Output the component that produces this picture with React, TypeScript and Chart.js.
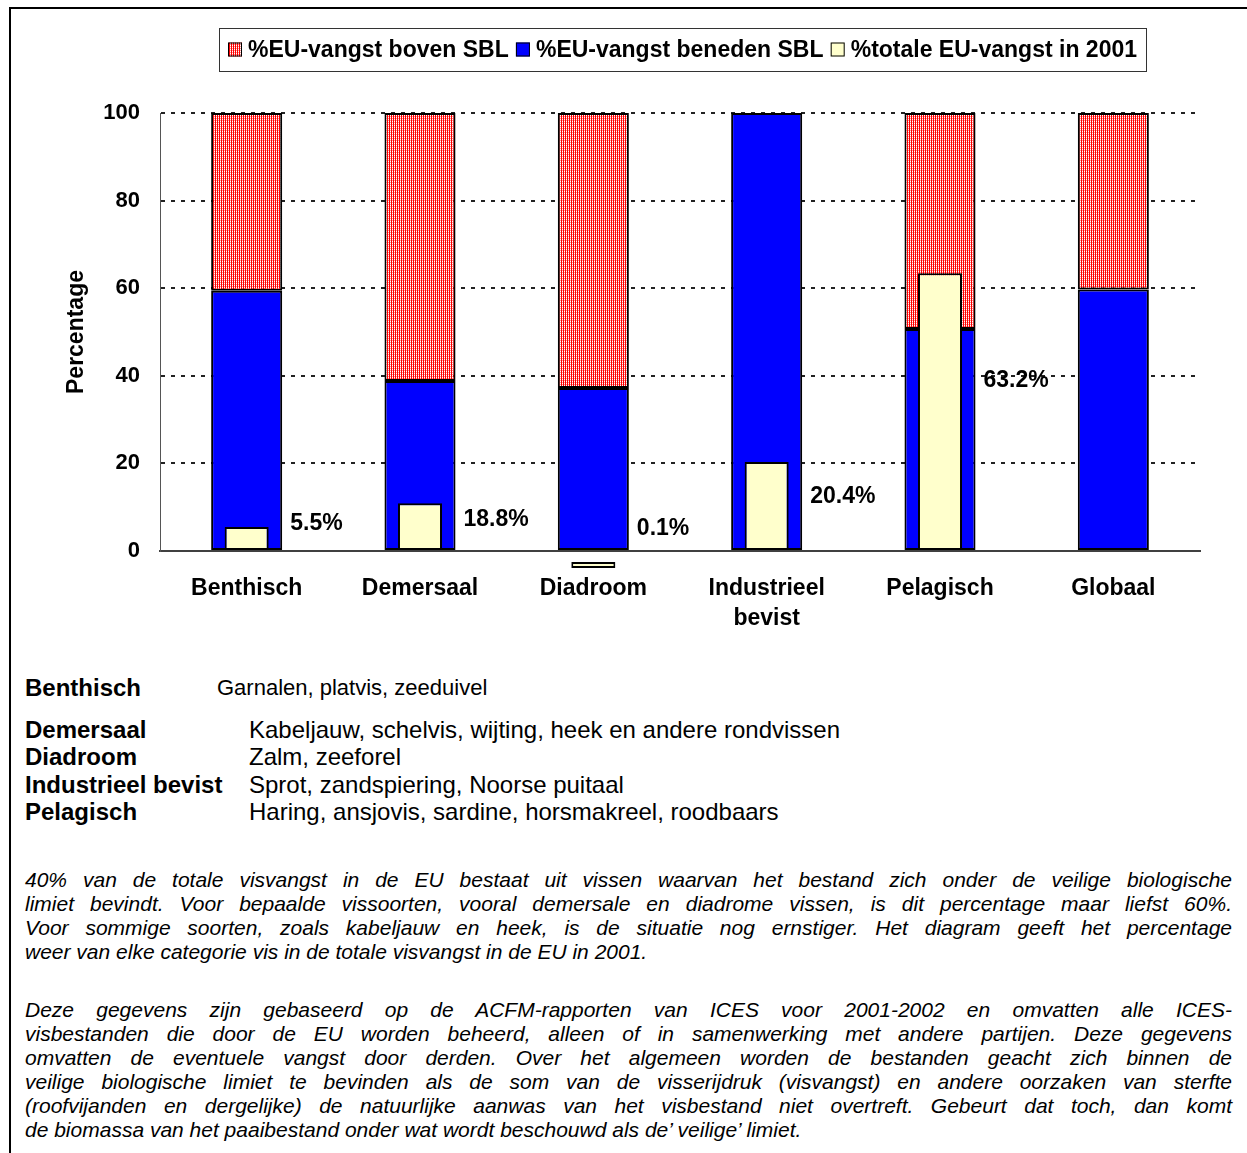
import React, { useEffect, useRef } from 'react';
import { Chart, registerables } from 'chart.js';

Chart.register(...registerables);

// ---------- data ----------
const categories: (string | string[])[] = ['Benthisch', 'Demersaal', 'Diadroom', ['Industrieel', 'bevist'], 'Pelagisch', 'Globaal'];
const seriesNames = ['%EU-vangst boven SBL', '%EU-vangst beneden SBL', '%totale EU-vangst in 2001'];
const aboveSBL = [40.6, 61.2, 62.8, 0, 49.3, 40.3];
const belowSBL = [59.4, 38.8, 37.2, 100, 50.7, 59.7];
// bars of the 2001 share as drawn in the picture (Diadroom's tiny bar is drawn under the axis)
const totalCatchBars: ([number, number] | null)[] = [[0, 5.5], [0, 10.9], [-3.9, -2.5], [0, 20.3], [0, 63.4], null];
const totalCatchLabels = ['5.5%', '18.8%', '0.1%', '20.4%', '63.2%', ''];
const yTicks = [0, 20, 40, 60, 80, 100];
const yTitle = 'Percentage';

const definitionTerms = ['Benthisch', 'Demersaal', 'Diadroom', 'Industrieel bevist', 'Pelagisch'];
const definitionTexts = [
  'Garnalen, platvis, zeeduivel',
  'Kabeljauw, schelvis, wijting, heek en andere rondvissen',
  'Zalm, zeeforel',
  'Sprot, zandspiering, Noorse puitaal',
  'Haring, ansjovis, sardine, horsmakreel, roodbaars',
];
const paragraph1 = [
  '40% van de totale visvangst in de EU bestaat uit vissen waarvan het bestand zich onder de veilige biologische',
  'limiet bevindt. Voor bepaalde vissoorten, vooral demersale en diadrome vissen, is dit percentage maar liefst 60%.',
  'Voor sommige soorten, zoals kabeljauw en heek, is de situatie nog ernstiger. Het diagram geeft het percentage',
  'weer van elke categorie vis in de totale visvangst in de EU in 2001.',
];
const paragraph2 = [
  'Deze gegevens zijn gebaseerd op de ACFM-rapporten van ICES voor 2001-2002 en omvatten alle ICES-',
  'visbestanden die door de EU worden beheerd, alleen of in samenwerking met andere partijen. Deze gegevens',
  'omvatten de eventuele vangst door derden. Over het algemeen worden de bestanden geacht zich binnen de',
  'veilige biologische limiet te bevinden als de som van de visserijdruk (visvangst) en andere oorzaken van sterfte',
  '(roofvijanden en dergelijke) de natuurlijke aanwas van het visbestand niet overtreft. Gebeurt dat toch, dan komt',
  'de biomassa van het paaibestand onder wat wordt beschouwd als de\u2019 veilige\u2019 limiet.',
];

// ---------- styling ----------
const FONT = '"Liberation Sans", Arial, Helvetica, sans-serif';
const labelAnchorY = [6.2, 7.1, 5.1, 12.3, 39.0, null];

function makeHatch(): CanvasPattern | string {
  const c = document.createElement('canvas');
  c.width = 2;
  c.height = 2;
  const g = c.getContext('2d');
  if (!g) return '#f08080';
  g.fillStyle = '#ffffff';
  g.fillRect(0, 0, 2, 2);
  g.fillStyle = '#ff0000';
  g.fillRect(0, 0, 1, 2);
  g.fillStyle = '#ff9090';
  g.fillRect(1, 1, 1, 1);
  return g.createPattern(c, 'repeat') || '#f08080';
}

const boxLegend = {
  id: 'boxLegend',
  afterDraw(chart: any) {
    const ctx: CanvasRenderingContext2D = chart.ctx;
    ctx.save();
    ctx.font = `bold 23px ${FONT}`;
    const items = chart.data.datasets.map((ds: any) => ({
      label: ds.label as string,
      fill: ds.backgroundColor,
      w: ctx.measureText(ds.label).width,
    }));
    const boxL = 208, boxT = 19, boxW = 927, boxH = 43;
    const sw = 14, swGap = 6, pad = 9;
    const content = items.reduce((a: number, it: any) => a + sw + swGap + it.w, 0);
    const gap = (boxW - 2 * pad - content) / (items.length - 1);
    ctx.lineWidth = 1;
    ctx.strokeStyle = '#333';
    ctx.fillStyle = '#fff';
    ctx.fillRect(boxL, boxT, boxW, boxH);
    ctx.strokeRect(boxL + 0.5, boxT + 0.5, boxW, boxH);
    const cy = boxT + boxH / 2;
    let x = boxL + pad;
    items.forEach((it: any) => {
      ctx.fillStyle = it.fill;
      ctx.fillRect(x, cy - sw / 2, sw, sw);
      ctx.strokeStyle = '#000';
      ctx.strokeRect(x + 0.5, cy - sw / 2 + 0.5, sw - 1, sw - 1);
      x += sw + swGap;
      ctx.fillStyle = '#000';
      ctx.textAlign = 'left';
      ctx.textBaseline = 'middle';
      ctx.fillText(it.label, x, cy + 1);
      x += it.w + gap;
    });
    ctx.restore();
  },
};

const valueLabels = {
  id: 'valueLabels',
  afterDatasetsDraw(chart: any) {
    const ctx: CanvasRenderingContext2D = chart.ctx;
    const meta = chart.getDatasetMeta(1);
    const yScale = chart.scales.y;
    ctx.save();
    ctx.font = `bold 23px ${FONT}`;
    ctx.fillStyle = '#000';
    ctx.textAlign = 'left';
    ctx.textBaseline = 'middle';
    totalCatchLabels.forEach((lab, i) => {
      const ay = labelAnchorY[i];
      if (!lab || ay == null) return;
      const el = meta.data[i];
      const right = el.x + el.width / 2;
      ctx.fillText(lab, right + 8, yScale.getPixelForValue(ay));
    });
    ctx.restore();
  },
};

export default function App() {
  const ref = useRef<HTMLCanvasElement>(null);

  useEffect(() => {
    if (!ref.current) return;
    const hatch = makeHatch();
    const tickFont = { family: FONT, size: 22, weight: 'bold' as const };
    const chart = new Chart(ref.current, {
      type: 'bar',
      data: {
        labels: categories as any,
        datasets: [
          {
            label: seriesNames[0],
            data: aboveSBL,
            backgroundColor: hatch as any,
            borderColor: '#000',
            borderWidth: 2,
            borderSkipped: false,
            stack: 'sbl',
            grouped: false,
            order: 2,
            barPercentage: 0.41,
            categoryPercentage: 1,
          } as any,
          {
            label: seriesNames[1],
            data: belowSBL,
            backgroundColor: '#0000ff',
            borderColor: '#000',
            borderWidth: 2,
            borderSkipped: false,
            stack: 'sbl',
            grouped: false,
            order: 1,
            barPercentage: 0.41,
            categoryPercentage: 1,
          } as any,
          {
            label: seriesNames[2],
            data: totalCatchBars as any,
            backgroundColor: '#ffffcc',
            borderColor: '#000',
            borderWidth: 2,
            borderSkipped: false,
            stack: 'total',
            grouped: false,
            order: 0,
            clip: false,
            barPercentage: 0.254,
            categoryPercentage: 1,
          } as any,
        ],
      },
      options: {
        animation: false,
        responsive: false,
        devicePixelRatio: window.devicePixelRatio || 1,
        layout: { padding: { left: 0, right: 47, top: 104, bottom: 0 } },
        plugins: {
          legend: { display: false },
          tooltip: { enabled: false },
          title: { display: false },
        },
        scales: {
          x: {
            stacked: true,
            grid: { display: false, drawTicks: false },
            border: { display: true, color: '#404040', width: 2 },
            ticks: {
              color: '#000',
              font: { family: FONT, size: 23, weight: 'bold', lineHeight: 30 / 23 },
              padding: 23,
              maxRotation: 0,
              autoSkip: false,
            },
            afterFit: (s: any) => {
              s.height = 98;
            },
          },
          y: {
            stacked: true,
            min: 0,
            max: 100,
            afterBuildTicks: (s: any) => {
              s.ticks = yTicks.map((v) => ({ value: v }));
            },
            grid: {
              color: (c: any) => (c.tick && c.tick.value === 0 ? 'rgba(0,0,0,0)' : '#222'),
              lineWidth: 2,
              drawTicks: false,
            },
            border: { display: true, color: '#555', width: 1, dash: [4, 6] },
            ticks: { color: '#000', font: tickFont, padding: 20 },
            title: {
              display: true,
              text: yTitle,
              color: '#000',
              font: { family: FONT, size: 23, weight: 'bold' },
              padding: { top: 52, bottom: 0 },
            },
            afterFit: (s: any) => {
              s.width = 149;
            },
          },
        },
      } as any,
      plugins: [valueLabels, boxLegend],
    });
    return () => chart.destroy();
  }, []);

  const defTops = [673.5, 715.5, 743, 770.5, 798];
  const defLefts = [217, 249, 249, 249, 249];
  const defSizes = [22, 24, 24, 24, 24];

  const lineStyle = (top: number, last: boolean): React.CSSProperties => ({
    position: 'absolute',
    left: 25,
    top,
    width: 1207,
    height: 24,
    lineHeight: '24px',
    fontSize: 21,
    fontStyle: 'italic',
    whiteSpace: 'nowrap',
    textAlign: last ? 'left' : 'justify',
    textAlignLast: last ? 'left' : 'justify',
  });

  return (
    <div
      style={{
        position: 'fixed',
        left: 0,
        top: 0,
        width: 1247,
        height: 1153,
        overflow: 'hidden',
        background: '#fff',
        fontFamily: FONT,
        color: '#000',
      }}
    >
      <div
        style={{
          position: 'absolute',
          left: 9,
          top: 7,
          width: 1400,
          height: 1400,
          borderLeft: '2px solid #000',
          borderTop: '2px solid #000',
        }}
      />
      <canvas
        ref={ref}
        width={1236}
        height={640}
        style={{ position: 'absolute', left: 11, top: 9, width: 1236, height: 640 }}
      />
      {definitionTerms.map((t, i) => (
        <div key={t} style={{ position: 'absolute', left: 0, top: defTops[i], fontSize: 24, whiteSpace: 'nowrap' }}>
          <span style={{ position: 'absolute', left: 25, fontWeight: 'bold' }}>{t}</span>
          <span style={{ position: 'absolute', left: defLefts[i], fontSize: defSizes[i], top: (24 - defSizes[i]) * 0.8 }}>
            {definitionTexts[i]}
          </span>
        </div>
      ))}
      {paragraph1.map((l, i) => (
        <div key={'p1' + i} style={lineStyle(867.5 + i * 24, i === paragraph1.length - 1)}>
          {l}
        </div>
      ))}
      {paragraph2.map((l, i) => (
        <div key={'p2' + i} style={lineStyle(997.5 + i * 24, i === paragraph2.length - 1)}>
          {l}
        </div>
      ))}
    </div>
  );
}
